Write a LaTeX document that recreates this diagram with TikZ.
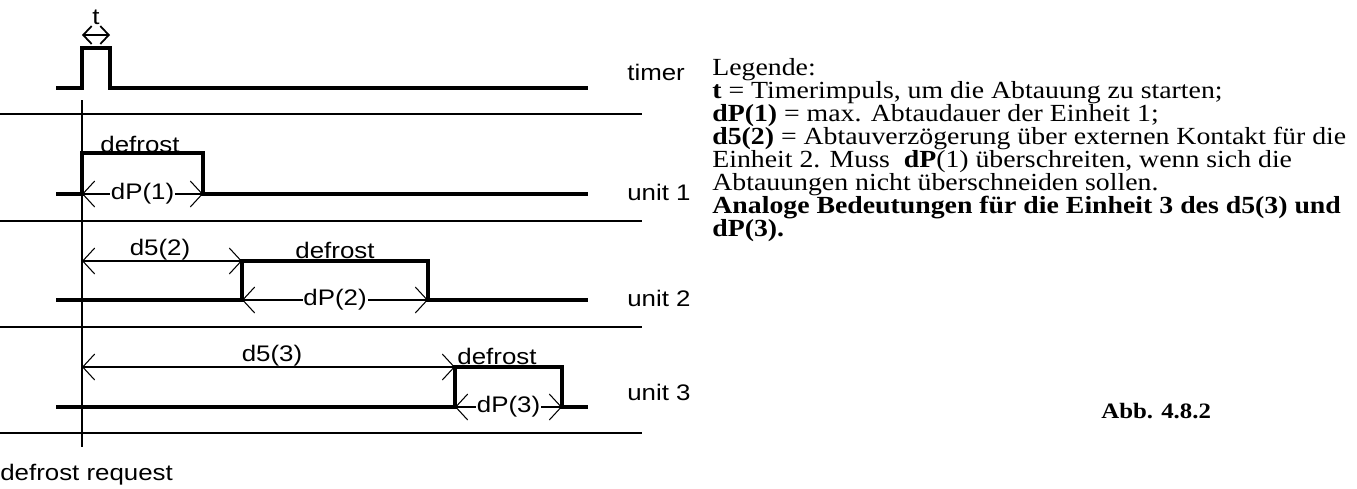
\documentclass[tikz,border=0pt]{standalone}
\usepackage{fontspec}
\setmainfont{Liberation Serif}[FakeStretch=1.13]
\setsansfont{Liberation Sans}[FakeStretch=1.15]
\usetikzlibrary{arrows.meta}
\begin{document}
\begin{tikzpicture}[x=0.02cm,y=-0.02cm,
  wave/.style={line width=2.3pt, line join=miter},
  sepline/.style={line width=0.7pt},
  marker/.style={line width=0.6pt},
  dimline/.style={line width=0.6pt, {Straight Barb[length=0.24cm,width=0.52cm]}-{Straight Barb[length=0.24cm,width=0.52cm]}},
  smalldim/.style={line width=1pt, {Straight Barb[length=0.17cm,width=0.36cm]}-{Straight Barb[length=0.17cm,width=0.36cm]}},
  lab/.style={font=\sffamily\fontsize{12.8}{15}\selectfont, inner sep=1pt},
  dimlab/.style={lab, fill=white, inner sep=0.5pt},
  rowlab/.style={lab, anchor=west, inner sep=0pt},
  leg/.style={font=\fontsize{14}{16}\selectfont, anchor=base west, inner sep=0pt}]
\useasboundingbox (0,0) rectangle (1357,488);

% separators
\foreach \y [count=\i] in {114,221,327,433} {
  \coordinate (sa\i) at (0,\y);
  \coordinate (sb\i) at (642,\y);
  \draw[sepline] (sa\i) -- (sb\i);
}
% defrost request marker
\coordinate (m0) at (82,100);
\coordinate (m1) at (82,447);
\draw[marker] (m0) -- (m1);
\node[lab, anchor=west, inner sep=0pt] (req) at (0,475) {defrost request};

% timer
\coordinate (t0) at (56,88);
\coordinate (t1) at (82,88);
\coordinate (t2) at (82,48);
\coordinate (t3) at (110,48);
\coordinate (t4) at (110,88);
\coordinate (t5) at (588,88);
\draw[wave] (t0) -- (t1) -- (t2) -- (t3) -- (t4) -- (t5);
\coordinate (ta) at (82,35);
\coordinate (tb) at (110,35);
\draw[smalldim] (ta) -- (tb);
\node[lab] (tl) at (96,17) {t};
\node[rowlab] (timer) at (627,72) {timer};

% unit 1
\coordinate (a0) at (56,194);
\coordinate (a1) at (82,194);
\coordinate (a2) at (82,153);
\coordinate (a3) at (203,153);
\coordinate (a4) at (203,194);
\coordinate (a5) at (588,194);
\draw[wave] (a0) -- (a1) -- (a2) -- (a3) -- (a4) -- (a5);
\node[lab] (d1) at (140,144) {defrost};
\draw[dimline] (a1) -- node[dimlab] (dp1) {dP(1)} (a4);
\node[rowlab] (u1) at (627,192) {unit 1};

% unit 2
\coordinate (b0) at (56,300);
\coordinate (b1) at (242,300);
\coordinate (b2) at (242,261);
\coordinate (b3) at (428,261);
\coordinate (b4) at (428,300);
\coordinate (b5) at (588,300);
\coordinate (bs) at (82,261);
\draw[wave] (b0) -- (b1) -- (b2) -- (b3) -- (b4) -- (b5);
\draw[dimline] (bs) -- (b2);
\node[lab] (d52) at (160,250) {d5(2)};
\node[lab] (d2) at (335,250) {defrost};
\draw[dimline] (b1) -- node[dimlab] (dp2) {dP(2)} (b4);
\node[rowlab] (u2) at (627,298) {unit 2};

% unit 3
\coordinate (c0) at (56,407);
\coordinate (c1) at (455,407);
\coordinate (c2) at (455,367);
\coordinate (c3) at (562,367);
\coordinate (c4) at (562,407);
\coordinate (c5) at (588,407);
\coordinate (cs) at (82,367);
\draw[wave] (c0) -- (c1) -- (c2) -- (c3) -- (c4) -- (c5);
\draw[dimline] (cs) -- (c2);
\node[lab] (d53) at (272,356) {d5(3)};
\node[lab] (d3) at (497,356) {defrost};
\draw[dimline] (c1) -- node[dimlab] (dp3) {dP(3)} (c4);
\node[rowlab] (u3) at (627,392) {unit 3};

% legend
\node[leg] (l1) at (712,75) {Legende:};
\node[leg] (l2) at (712,98) {\textbf{t} = Timerimpuls, um die Abtauung zu starten;};
\node[leg] (l3) at (712,121) {\textbf{dP(1)} = max. Abtaudauer der Einheit 1;};
\node[leg] (l4) at (712,144) {\textbf{d5(2)} = Abtauverzögerung über externen Kontakt für die};
\node[leg] (l5) at (712,167) {Einheit 2. Muss\ \ \textbf{dP}(1) überschreiten, wenn sich die};
\node[leg] (l6) at (712,190) {Abtauungen nicht überschneiden sollen.};
\node[leg] (l7) at (712,213) {\textbf{Analoge Bedeutungen für die Einheit 3 des d5(3) und}};
\node[leg] (l8) at (712,236) {\textbf{dP(3).}};
\node[leg, font=\fontsize{12.5}{14}\selectfont] (abb) at (1101,418) {\textbf{Abb. 4.8.2}};
\end{tikzpicture}
\end{document}
